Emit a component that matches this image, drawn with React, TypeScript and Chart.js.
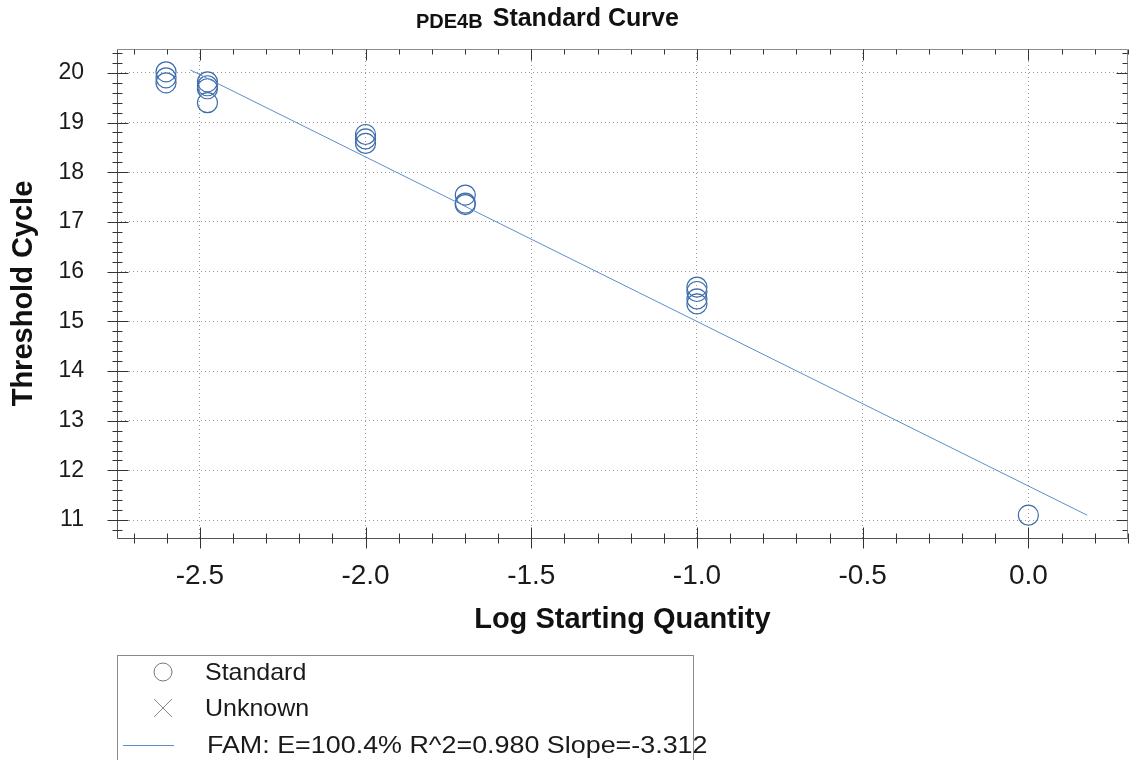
import { useEffect, useRef } from 'react';
import { Chart, registerables } from 'chart.js';

Chart.register(...registerables);

// Standard wells: log starting quantity and threshold cycle
const stdLogQty = [-2.602, -2.602, -2.602, -2.477, -2.477, -2.477, -2.477, -2.0, -2.0, -2.0, -1.699, -1.699, -1.699, -1.0, -1.0, -1.0, -1.0, 0.0];
const stdCt = [20.02, 19.9, 19.8, 19.82, 19.74, 19.68, 19.4, 18.76, 18.67, 18.58, 17.54, 17.38, 17.35, 15.69, 15.6, 15.45, 15.35, 11.1];

// Regression (FAM) line end points
const fitLogQty = [-2.529, 0.177];
const fitCt = [20.06, 11.1];

const xMin = -2.75;
const xMax = 0.3;
const yMin = 10.64;
const yMax = 20.48;

const titleGene = 'PDE4B';
const titleMain = 'Standard Curve';
const xTitle = 'Log Starting Quantity';
const yTitle = 'Threshold Cycle';
const legendLabels = ['Standard', 'Unknown', 'FAM: E=100.4% R^2=0.980 Slope=-3.312'];

const FONT = "'Liberation Sans', Arial, Helvetica, sans-serif";

const frameTicks = {
  id: 'frameTicks',
  afterDraw(chart: any) {
    const { ctx, chartArea, scales } = chart;
    const { left, right, top, bottom } = chartArea;
    const x = scales.x;
    const y = scales.y;
    const L = Math.round(left) + 0.5;
    const R = Math.round(right) - 0.5;
    const T = Math.round(top) + 0.5;
    const B = Math.round(bottom) + 0.5;
    ctx.save();
    ctx.lineWidth = 1;
    ctx.strokeStyle = '#8c8c8c';
    ctx.beginPath();
    ctx.moveTo(L, T);
    ctx.lineTo(R, T);
    ctx.lineTo(R, B);
    ctx.stroke();
    ctx.strokeStyle = '#555555';
    ctx.beginPath();
    ctx.moveTo(L, T);
    ctx.lineTo(L, B);
    ctx.lineTo(R, B);
    ctx.stroke();
    ctx.strokeStyle = '#333333';
    ctx.beginPath();
    for (let i = -27; i <= 3; i++) {
      const px = Math.round(x.getPixelForValue(i / 10)) + 0.5;
      const major = i % 5 === 0;
      if (major) {
        ctx.moveTo(px, B - 11);
        ctx.lineTo(px, B + 10);
        ctx.moveTo(px, T);
        ctx.lineTo(px, T + 11);
      } else {
        ctx.moveTo(px, B - 5);
        ctx.lineTo(px, B + 5);
        ctx.moveTo(px, T);
        ctx.lineTo(px, T + 5);
      }
    }
    for (let j = 54; j <= 102; j++) {
      const py = Math.round(y.getPixelForValue(j / 5)) + 0.5;
      const major = j % 5 === 0;
      if (major) {
        ctx.moveTo(L - 10, py);
        ctx.lineTo(L + 11, py);
        ctx.moveTo(R, py);
        ctx.lineTo(R - 11, py);
      } else {
        ctx.moveTo(L - 5, py);
        ctx.lineTo(L + 5, py);
        ctx.moveTo(R, py);
        ctx.lineTo(R - 5, py);
      }
    }
    ctx.stroke();
    ctx.restore();
  },
};

const CANVAS_W = 1139;
const CANVAS_H = 760;

export default function App() {
  const canvasRef = useRef<HTMLCanvasElement | null>(null);

  useEffect(() => {
    if (!canvasRef.current) return;
    const chart = new Chart(canvasRef.current, {
      type: 'scatter',
      data: {
        datasets: [
          {
            label: 'FAM',
            data: fitLogQty.map((v, i) => ({ x: v, y: fitCt[i] })),
            showLine: true,
            borderColor: '#5b8fc9',
            borderWidth: 1,
            pointRadius: 0,
            fill: false,
          },
          {
            label: 'Standard',
            data: stdLogQty.map((v, i) => ({ x: v, y: stdCt[i] })),
            pointStyle: 'circle',
            pointRadius: 10,
            pointBorderWidth: 1.2,
            borderColor: '#3d6dab',
            pointBorderColor: '#3d6dab',
            backgroundColor: 'rgba(0,0,0,0)',
            pointBackgroundColor: 'rgba(0,0,0,0)',
          },
        ],
      },
      options: {
        responsive: false,
        animation: false,
        devicePixelRatio: 1,
        layout: { padding: { left: 0, top: 49, right: 1, bottom: 122 } },
        plugins: {
          legend: { display: false },
          tooltip: { enabled: false },
          title: { display: false },
        },
        scales: {
          x: {
            type: 'linear',
            min: xMin,
            max: xMax,
            afterFit: (s: any) => {
              s.height = 100;
              s.paddingLeft = 0;
              s.paddingRight = 0;
            },
            ticks: {
              stepSize: 0.5,
              includeBounds: false,
              padding: 21,
              color: '#1a1a1a',
              font: { family: FONT, size: 28 },
              callback: (v: any) => Number(v).toFixed(1),
              maxRotation: 0,
            },
            grid: {
              color: '#9a9a9a',
              lineWidth: 1,
              drawTicks: false,
            },
            border: { display: false, dash: [1, 3] },
            title: {
              display: true,
              text: xTitle,
              color: '#111',
              font: { family: FONT, size: 29, weight: 'bold' },
              padding: { top: 0, bottom: 1 },
            },
          },
          y: {
            type: 'linear',
            min: yMin,
            max: yMax,
            afterFit: (s: any) => {
              s.width = 117;
              s.paddingTop = 0;
              s.paddingBottom = 0;
            },
            ticks: {
              stepSize: 1,
              includeBounds: false,
              padding: 33,
              color: '#1a1a1a',
              font: { family: FONT, size: 23 },
              callback: (v: any) => String(v),
            },
            grid: {
              color: '#9a9a9a',
              lineWidth: 1,
              drawTicks: false,
            },
            border: { display: false, dash: [1, 3] },
            title: {
              display: true,
              text: yTitle,
              color: '#111',
              font: { family: FONT, size: 29, weight: 'bold' },
              padding: { top: 7, bottom: 0 },
            },
          },
        },
      },
      plugins: [frameTicks],
    } as any);
    return () => chart.destroy();
  }, []);

  const legendText: React.CSSProperties = {
    position: 'absolute',
    fontFamily: FONT,
    fontSize: 24,
    color: '#1a1a1a',
    whiteSpace: 'nowrap',
    lineHeight: '26px',
    transformOrigin: 'left center',
  };

  return (
    <div
      style={{
        position: 'fixed',
        left: 0,
        top: 0,
        width: 1129,
        height: 760,
        overflow: 'hidden',
        background: '#ffffff',
      }}
    >
      <canvas
        ref={canvasRef}
        width={CANVAS_W}
        height={CANVAS_H}
        style={{ position: 'absolute', left: 0, top: 0, width: CANVAS_W, height: CANVAS_H }}
      />
      <div
        style={{
          position: 'absolute',
          left: 416,
          top: 3,
          fontFamily: FONT,
          fontWeight: 'bold',
          whiteSpace: 'nowrap',
          color: '#111',
        }}
      >
        <span style={{ fontSize: 20, verticalAlign: '-2px' }}>{titleGene}</span>
        <span style={{ fontSize: 25, marginLeft: 10 }}>{titleMain}</span>
      </div>
      <div
        style={{
          position: 'absolute',
          left: 117,
          top: 655,
          width: 577,
          height: 140,
          border: '1px solid #8a8a8a',
          boxSizing: 'border-box',
        }}
      />
      <svg style={{ position: 'absolute', left: 0, top: 640 }} width={200} height={120}>
        <circle cx={163} cy={32} r={9} fill="none" stroke="#777" strokeWidth={1} />
        <line x1={154} y1={59} x2={172} y2={77} stroke="#888" strokeWidth={1} />
        <line x1={172} y1={59} x2={154} y2={77} stroke="#888" strokeWidth={1} />
        <line x1={123} y1={105.5} x2={174} y2={105.5} stroke="#5b8fc9" strokeWidth={1} />
      </svg>
      <div style={{ ...legendText, left: 205, top: 659, transform: 'scaleX(1.04)' }}>{legendLabels[0]}</div>
      <div style={{ ...legendText, left: 205, top: 695, transform: 'scaleX(1.04)' }}>{legendLabels[1]}</div>
      <div style={{ ...legendText, left: 207, top: 732, transform: 'scaleX(1.12)' }}>{legendLabels[2]}</div>
    </div>
  );
}
